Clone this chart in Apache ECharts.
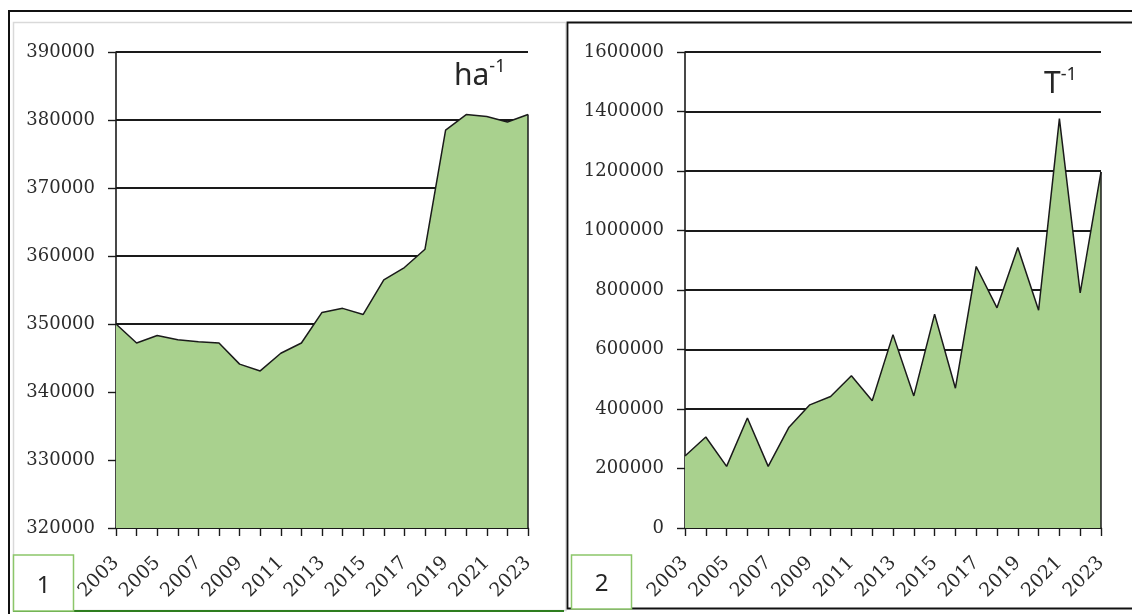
<!DOCTYPE html>
<html><head><meta charset="utf-8">
<script src="https://cdn.jsdelivr.net/npm/echarts@6/dist/echarts.min.js"></script>
<style>html,body{margin:0;padding:0;background:#fff;}#c{width:1132px;height:614px;}</style>
</head><body><div id="c"></div>
<script>
const years = ['2003','2004','2005','2006','2007','2008','2009','2010','2011','2012','2013','2014','2015','2016','2017','2018','2019','2020','2021','2022','2023'];
const areaHa = [350000,347200,348300,347700,347400,347200,344100,343100,345700,347200,351700,352300,351400,356500,358300,361000,378500,380800,380500,379700,380800];
const areaT = [242000,306000,207000,370000,207000,339000,414000,442000,512000,428000,650000,444000,719000,470000,879000,740000,943000,732000,1376000,790000,1197000];
const haRange = [320000, 390000, 10000];
const tRange = [0, 1600000, 200000];
const unitLabels = ['ha', 'T'];
const panelLabels = ['1', '2'];

const chart = echarts.init(document.getElementById('c'), null, {renderer: 'canvas'});
const axisFont = {fontFamily: 'DejaVu Serif', fontSize: 18, color: '#2b2b2b'};
const black = '#1a1a1a';
function xAxisFor(gi) {
  return {
    type: 'category', gridIndex: gi, data: years, boundaryGap: false,
    axisLine: {show: true, lineStyle: {color: black, width: 1.6}},
    axisTick: {show: true, interval: 0, length: 8, lineStyle: {color: black, width: 1.4}},
    axisLabel: {interval: 1, rotate: 45, margin: 32, fontSize: 19, fontFamily: axisFont.fontFamily, color: axisFont.color},
    splitLine: {show: false}
  };
}
function yAxisFor(gi, r) {
  return {
    type: 'value', gridIndex: gi, min: r[0], max: r[1], interval: r[2],
    axisLine: {show: true, lineStyle: {color: black, width: 1.6}},
    axisTick: {show: true, length: 8, lineStyle: {color: black, width: 1.4}},
    axisLabel: Object.assign({margin: 21, formatter: function (v) { return String(v); }}, axisFont),
    splitLine: {show: true, lineStyle: {color: black, width: 1.8}}
  };
}
function areaSeries(gi, data, r) {
  return {
    type: 'line', xAxisIndex: gi, yAxisIndex: gi, data: data,
    symbol: 'none', smooth: false,
    lineStyle: {color: black, width: 1.5},
    areaStyle: {color: '#a9d18e', opacity: 1},
    markLine: {
      silent: true, symbol: 'none', label: {show: false},
      lineStyle: {color: black, width: 1.5, type: 'solid'},
      data: [[{coord: [years[years.length - 1], r[0]]}, {coord: [years[years.length - 1], data[data.length - 1]]}]]
    }
  };
}
const unitRich = {
  a: {fontFamily: 'Noto Sans', fontSize: 30, fontWeight: 'normal', color: '#262626', lineHeight: 36},
  b: {fontFamily: 'Noto Sans', fontSize: 18, fontWeight: 'normal', color: '#262626', lineHeight: 18, verticalAlign: 'top'}
};
chart.setOption({
  animation: false,
  backgroundColor: '#fff',
  grid: [
    {left: 116, top: 52, width: 412, height: 476},
    {left: 685, top: 52, width: 416, height: 476}
  ],
  xAxis: [xAxisFor(0), xAxisFor(1)],
  yAxis: [yAxisFor(0, haRange), yAxisFor(1, tRange)],
  series: [areaSeries(0, areaHa, haRange), areaSeries(1, areaT, tRange)],
  title: [
    {text: '{a|' + unitLabels[0] + '}{b|-1}', left: 454, top: 58, padding: 0, textStyle: {fontWeight: 'normal', rich: unitRich}},
    {text: '{a|' + unitLabels[1] + '}{b|-1}', left: 1044, top: 66, padding: 0, textStyle: {fontWeight: 'normal', rich: unitRich}}
  ],
  graphic: [
    {type: 'line', shape: {x1: 8, y1: 11, x2: 1132, y2: 11}, style: {stroke: '#111', lineWidth: 2}},
    {type: 'line', shape: {x1: 9, y1: 10, x2: 9, y2: 614}, style: {stroke: '#111', lineWidth: 2}},
    {type: 'rect', shape: {x: 13.5, y: 22.5, width: 552.5, height: 588}, style: {fill: 'none', stroke: '#d9d9d9', lineWidth: 1.5}},
    {type: 'line', shape: {x1: 13, y1: 611, x2: 564, y2: 611}, style: {stroke: '#2e7d1f', lineWidth: 2}},
    {type: 'rect', shape: {x: 567.5, y: 22.5, width: 600, height: 586}, style: {fill: 'none', stroke: '#111', lineWidth: 1.8}},
    {type: 'rect', shape: {x: 13.5, y: 555, width: 60, height: 56}, style: {fill: '#fff', stroke: '#8cc66a', lineWidth: 1.5}},
    {type: 'text', x: 43.5, y: 586, style: {text: panelLabels[0], font: '24px "Noto Sans"', fill: '#262626', align: 'center', verticalAlign: 'middle'}},
    {type: 'rect', shape: {x: 571.5, y: 555, width: 60, height: 54}, style: {fill: '#fff', stroke: '#8cc66a', lineWidth: 1.5}},
    {type: 'text', x: 601.5, y: 584, style: {text: panelLabels[1], font: '24px "Noto Sans"', fill: '#262626', align: 'center', verticalAlign: 'middle'}}
  ]
});
</script>
</body></html>
